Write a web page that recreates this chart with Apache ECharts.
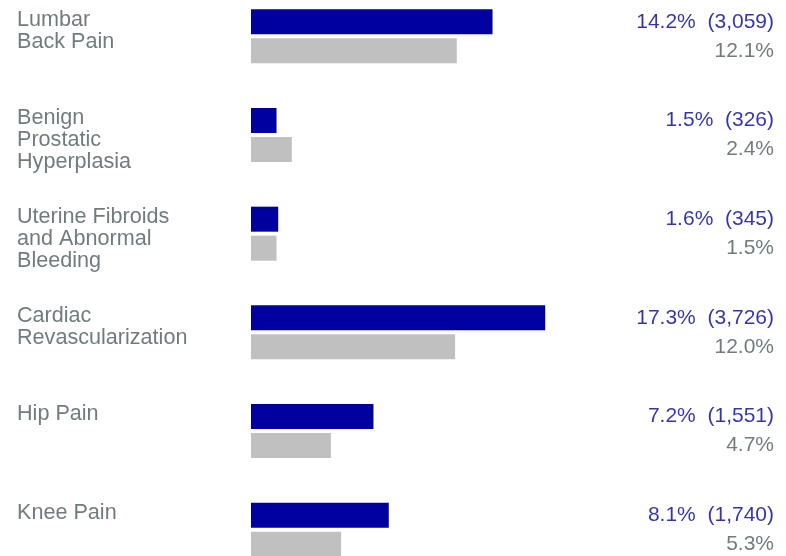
<!DOCTYPE html>
<html><head><meta charset="utf-8">
<script src="https://cdn.jsdelivr.net/npm/echarts@6/dist/echarts.min.js"></script>
<style>html,body{margin:0;padding:0;background:#fff;overflow:hidden;width:786px;height:556px}#c{width:786px;height:592px;margin-top:-13px}</style>
</head><body><div id="c"></div>
<script>
const categories = ['Lumbar\nBack Pain', 'Benign\nProstatic\nHyperplasia', 'Uterine Fibroids\nand Abnormal\nBleeding', 'Cardiac\nRevascularization', 'Hip Pain', 'Knee Pain'];
const primaryPct = [14.2, 1.5, 1.6, 17.3, 7.2, 8.1];
const primaryCount = ['3,059', '326', '345', '3,726', '1,551', '1,740'];
const comparePct = [12.1, 2.4, 1.5, 12.0, 4.7, 5.3];

const BLUE = '#0000A0', GRAY = '#C0C0C0', TXT = '#4E5A5C', FONT = '"Liberation Sans", Arial, sans-serif';
const chart = echarts.init(document.getElementById('c'));
chart.setOption({
  animation: false,
  grid: { left: 251, right: 12, top: 0, bottom: 0 },
  xAxis: [
    { type: 'value', min: 0, max: 30.75, show: false },
    { type: 'value', min: 0, max: 1, show: false }
  ],
  yAxis: { type: 'category', data: categories, inverse: true, show: false },
  series: [
    { type: 'bar', data: primaryPct, barWidth: 25, barGap: '16%', itemStyle: { color: BLUE }, silent: true },
    { type: 'bar', data: comparePct, barWidth: 25, barGap: '16%', itemStyle: { color: GRAY }, silent: true },
    { type: 'scatter', xAxisIndex: 1, symbolSize: 0, silent: true,
      data: categories.map((c, i) => [0, i]),
      label: { show: true, position: 'inside', align: 'left', verticalAlign: 'top', offset: [-234, -27.5],
        formatter: p => categories[p.dataIndex], color: TXT, fontFamily: FONT, fontSize: 21.6, lineHeight: 22 } },
    { type: 'scatter', xAxisIndex: 1, symbolSize: 0, silent: true,
      data: categories.map((c, i) => [1, i]),
      label: { show: true, position: 'inside', align: 'right', verticalAlign: 'middle', offset: [0, -14.5],
        formatter: p => primaryPct[p.dataIndex].toFixed(1) + '%  (' + primaryCount[p.dataIndex] + ')', color: '#00009A', fontFamily: FONT, fontSize: 21 } },
    { type: 'scatter', xAxisIndex: 1, symbolSize: 0, silent: true,
      data: categories.map((c, i) => [1, i]),
      label: { show: true, position: 'inside', align: 'right', verticalAlign: 'middle', offset: [0, 14.5],
        formatter: p => comparePct[p.dataIndex].toFixed(1) + '%', color: TXT, fontFamily: FONT, fontSize: 21 } }
  ]
});
</script></body></html>
